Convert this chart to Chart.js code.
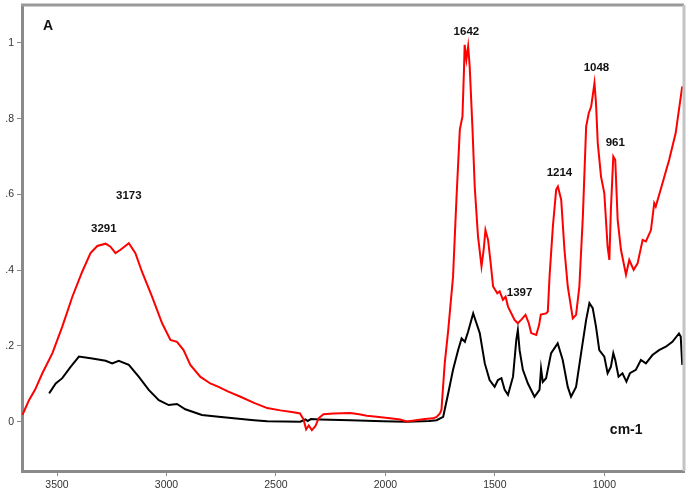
<!DOCTYPE html>
<html>
<head>
<meta charset="utf-8">
<script src="https://cdn.jsdelivr.net/npm/chart.js@4/dist/chart.umd.min.js"></script>
<style>
html,body{margin:0;padding:0;background:#fff;}
#wrap{width:690px;height:494px;position:relative;}
</style>
</head>
<body>
<div id="wrap"><canvas id="c" width="690" height="494"></canvas></div>
<script>
// Red spectrum (wavenumber, absorbance)
const redWn = [3658,3645,3628,3600,3567,3521,3476,3430,3385,3347,3316,3278,3256,3233,3210,3172,3142,3112,3066,3020,2982,2952,2922,2891,2846,2800,2762,2720,2662,2600,2540,2480,2420,2390,2374,2362,2350,2336,2320,2305,2283,2237,2161,2120,2085,2040,1979,1933,1903,1860,1820,1782,1766,1751,1744,1729,1713,1691,1675,1660,1648,1641,1638,1630,1622,1615,1602,1592,1577,1561,1551,1543,1531,1519,1508,1489,1478,1463,1451,1440,1410,1395,1380,1360,1345,1334,1311,1298,1290,1266,1258,1250,1235,1220,1212,1197,1182,1167,1144,1129,1114,1098,1083,1071,1060,1045,1038,1030,1015,1000,985,977,970,959,950,939,924,901,886,866,848,825,810,787,772,765,734,704,674,659,644];
const redAbs = [0.018,0.035,0.057,0.085,0.128,0.181,0.251,0.330,0.396,0.445,0.464,0.470,0.462,0.445,0.454,0.471,0.445,0.396,0.330,0.260,0.216,0.211,0.189,0.150,0.119,0.101,0.092,0.080,0.066,0.050,0.036,0.030,0.025,0.022,0.006,-0.020,-0.010,-0.022,-0.012,0.009,0.020,0.022,0.023,0.020,0.016,0.013,0.009,0.006,0.001,0.004,0.007,0.009,0.013,0.022,0.031,0.154,0.242,0.383,0.594,0.771,0.806,0.929,0.995,0.956,0.991,0.938,0.771,0.621,0.489,0.410,0.454,0.506,0.480,0.418,0.357,0.339,0.344,0.322,0.330,0.304,0.269,0.260,0.269,0.282,0.260,0.234,0.229,0.255,0.283,0.286,0.291,0.385,0.515,0.612,0.621,0.586,0.454,0.357,0.273,0.282,0.357,0.542,0.779,0.815,0.832,0.894,0.841,0.736,0.647,0.603,0.462,0.427,0.559,0.700,0.691,0.533,0.454,0.388,0.427,0.401,0.418,0.480,0.476,0.506,0.577,0.568,0.630,0.691,0.762,0.824,0.885];

// Black spectrum (wavenumber, absorbance)
const blackWn = [3536,3506,3476,3438,3400,3339,3278,3248,3218,3172,3127,3081,3035,2990,2952,2914,2838,2762,2693,2600,2540,2389,2365,2355,2340,2300,2161,2011,1903,1800,1766,1736,1713,1691,1668,1652,1637,1622,1599,1584,1569,1546,1524,1501,1486,1470,1455,1440,1417,1402,1395,1387,1372,1349,1319,1296,1289,1281,1266,1243,1213,1190,1167,1152,1129,1106,1083,1068,1053,1038,1023,1000,985,970,959,950,935,917,899,883,856,833,810,780,750,719,689,659,651,644];
const blackAbs = [0.075,0.101,0.115,0.145,0.172,0.167,0.161,0.154,0.161,0.150,0.119,0.084,0.057,0.044,0.047,0.033,0.018,0.013,0.009,0.004,0.001,0.000,0.006,0.002,0.007,0.006,0.004,0.001,0.000,0.002,0.004,0.013,0.075,0.137,0.189,0.220,0.211,0.238,0.286,0.260,0.234,0.154,0.110,0.092,0.110,0.115,0.084,0.071,0.119,0.216,0.242,0.189,0.137,0.101,0.066,0.084,0.140,0.105,0.115,0.181,0.207,0.163,0.092,0.066,0.092,0.181,0.269,0.313,0.300,0.251,0.189,0.172,0.128,0.145,0.181,0.163,0.119,0.128,0.106,0.128,0.137,0.163,0.154,0.176,0.189,0.198,0.211,0.233,0.225,0.150];

// Axis ticks
const xTicks = [3500,3000,2500,2000,1500,1000];
const yTicks = [0,0.2,0.4,0.6,0.8,1];

// Peak annotations
const annoText = ["3291","3173","1642","1048","961","1214","1397"];
const annoWn   = [3286,3172,1630,1036,950,1205,1387];
const annoAbs  = [0.509,0.596,1.030,0.934,0.736,0.657,0.340];

const panelLabel = {text:"A", wn:3541, abs:1.043};
const unitLabel = {text:"cm-1", wn:900, abs:-0.022};

function pts(xs, ys){ return xs.map((x,i)=>({x:x, y:ys[i]})); }

const framePlugin = {
  id:'frame',
  afterDraw(chart){
    const {ctx, chartArea:a, scales} = chart;
    ctx.save();
    ctx.lineWidth = 3;
    ctx.strokeStyle = '#9a9a9a';
    ctx.beginPath(); ctx.moveTo(a.left-1, a.top); ctx.lineTo(a.right, a.top); ctx.stroke();
    ctx.strokeStyle = '#c4c4c4';
    ctx.beginPath(); ctx.moveTo(a.right, a.top); ctx.lineTo(a.right, a.bottom); ctx.stroke();
    // annotations
    ctx.fillStyle = '#111';
    ctx.textAlign = 'center';
    ctx.textBaseline = 'middle';
    ctx.font = 'bold 11.5px "Liberation Sans", Arial, sans-serif';
    annoText.forEach((t,i)=>{
      ctx.fillText(t, scales.x.getPixelForValue(annoWn[i]), scales.y.getPixelForValue(annoAbs[i]));
    });
    ctx.font = 'bold 14px "Liberation Sans", Arial, sans-serif';
    ctx.fillText(unitLabel.text, scales.x.getPixelForValue(unitLabel.wn), scales.y.getPixelForValue(unitLabel.abs));
    ctx.fillText(panelLabel.text, scales.x.getPixelForValue(panelLabel.wn), scales.y.getPixelForValue(panelLabel.abs));
    ctx.restore();
  }
};

new Chart(document.getElementById('c'), {
  type:'line',
  data:{
    datasets:[
      {data:pts(redWn, redAbs), borderColor:'#ff0000', borderWidth:2, pointRadius:0, tension:0},
      {data:pts(blackWn, blackAbs), borderColor:'#000000', borderWidth:2, pointRadius:0, tension:0}
    ]
  },
  options:{
    responsive:false,
    animation:false,
    events:[],
    layout:{padding:{top:5, right:6, left:0, bottom:0}},
    plugins:{legend:{display:false}, tooltip:{enabled:false}},
    scales:{
      x:{
        type:'linear', reverse:true, min:636, max:3660,
        afterBuildTicks(s){ s.ticks = xTicks.map(v=>({value:v})); },
        afterFit(s){ s.height = 23; s.paddingLeft = 0; s.paddingRight = 0; },
        grid:{drawOnChartArea:false, drawTicks:true, tickLength:5, color:'#8a8a8a', lineWidth:1},
        border:{display:true, color:'#8a8a8a', width:3},
        ticks:{color:'#333', font:{family:'"Liberation Sans", Arial, sans-serif', size:10.5}, padding:3, maxRotation:0,
          callback:(v)=>String(v)}
      },
      y:{
        type:'linear', min:-0.13, max:1.1,
        afterBuildTicks(s){ s.ticks = yTicks.map(v=>({value:v})); },
        afterFit(s){ s.width = 22; s.paddingTop = 0; s.paddingBottom = 0; },
        grid:{drawOnChartArea:false, drawTicks:true, tickLength:5, color:'#8a8a8a', lineWidth:1},
        border:{display:true, color:'#8a8a8a', width:3},
        ticks:{color:'#333', font:{family:'"Liberation Sans", Arial, sans-serif', size:10.5}, padding:3,
          callback:(v)=>{ if(v===0) return '0'; if(Math.abs(v-1)<1e-9) return '1'; return String(Math.round(v*10)/10).replace(/^0/,''); }}
      }
    }
  },
  plugins:[framePlugin]
});
</script>
</body>
</html>
